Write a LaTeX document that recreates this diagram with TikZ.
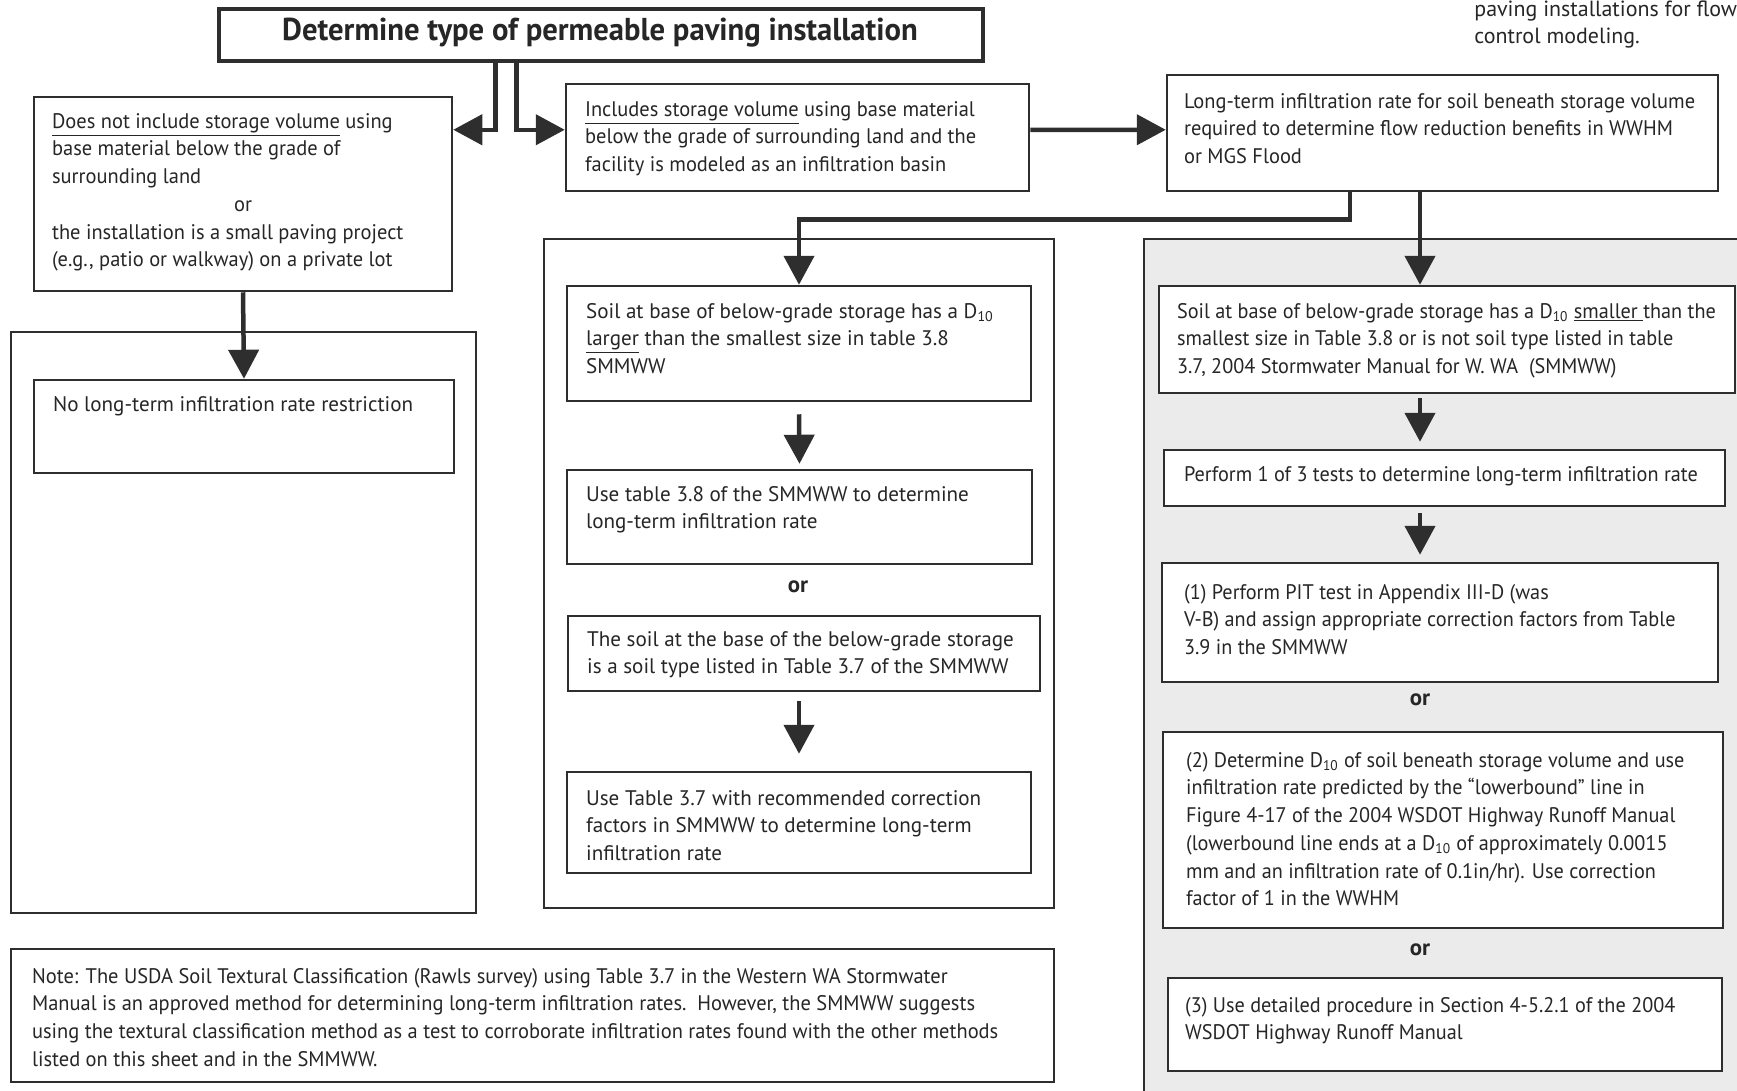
\documentclass[tikz,border=0pt]{standalone}
\usepackage{fontspec}
\usepackage{tikz}
\usetikzlibrary{arrows.meta,calc,fit}
\setmainfont{PT Sans}[FakeStretch=0.97]
\newfontfamily\widefam{PT Sans}
\newfontfamily\rightfam{PT Sans}[FakeStretch=0.96]
\newcommand\condfont{\fontsize{12}{15.8}\selectfont}
\newcommand\widefont{\widefam\fontsize{12}{15.8}\selectfont}
\newcommand\rightfont{\rightfam\fontsize{12}{15.8}\selectfont}
\newcommand\titlefont{\fontsize{18}{20}\selectfont\bfseries}
\definecolor{dgray}{HTML}{2E2E2E}
\definecolor{tgray}{HTML}{262626}
\definecolor{lgray}{HTML}{EBEBEB}
\tikzset{
  box/.style={draw=dgray, line width=0.05cm, fill=white, inner sep=0pt},
  col/.style={draw=dgray, line width=0.04cm, inner sep=0pt},
  txt/.style={anchor=north west, align=left, inner sep=0pt, text=tgray, font=\condfont},
  wtxt/.style={txt, font=\widefont},
  rtxt/.style={txt, font=\rightfont},
  ortxt/.style={inner sep=0pt, text=tgray, font=\widefam\fontsize{13}{14}\selectfont\bfseries},
  arr/.style={draw=dgray, line width=0.09cm, -{Triangle[length=0.58cm,width=0.6cm]}}
}

\begin{document}
\begin{tikzpicture}[x=0.02cm, y=-0.02cm]
\useasboundingbox (0,0) rectangle (1737,1090);
\clip (0,0) rectangle (1737,1090);
% columns
\node[col, fit={(11,332) (476,913)}] (leftcol) {};
\node[col, fit={(544,239) (1054,908)}] (midcol) {};
\node[col, fill=lgray, fit={(1144,239) (1760,1110)}] (rightcol) {};
% top row
\node[box, line width=0.07cm, fit={(219,9) (983,61)}] (title) {};
\node[inner sep=0pt, text=tgray, font=\titlefont] (titlet) at (600,33) {Determine type of permeable paving installation};
\node[inner sep=0pt, anchor=north west, align=left, text=tgray, font=\widefam\fontsize{12.5}{15}\selectfont] (cutnote) at (1474,1) {paving installations for flow\\control modeling.};
\node[box, fit={(34,97) (452,291)}] (notinc) {};
\node[txt] (notinct) at ($(notinc.north west)+(19,17)$) {\underline{Does not include storage volume} using\\base material below the grade of\\surrounding land\\\makebox[7.64cm]{or}\\the installation is a small paving project\\(e.g., patio or walkway) on a private lot};
\node[box, fit={(566,84) (1029,191)}] (inc) {};
\node[txt] (inct) at ($(inc.north west)+(20,18)$) {\underline{Includes storage volume} using base material\\below the grade of surrounding land and the\\facility is modeled as an infiltration basin};
\node[box, fit={(1167,75) (1718,191)}] (ltrate) {};
\node[txt] (ltratet) at ($(ltrate.north west)+(18,19)$) {Long-term infiltration rate for soil beneath storage volume\\required to determine flow reduction benefits in WWHM\\or MGS Flood};
% left column
\node[box, fit={(34,380) (454,473)}] (norestr) {};
\node[wtxt] (norestrt) at ($(norestr.north west)+(20,17)$) {No long-term infiltration rate restriction};
% middle column
\node[box, fit={(567,286) (1031,401)}] (larger) {};
\node[wtxt] (largert) at ($(larger.north west)+(20,18)$) {Soil at base of below-grade storage has a D\textsubscript{10}\\\underline{larger} than the smallest size in table 3.8\\SMMWW};
\node[box, fit={(567,470) (1032,564)}] (usetab38) {};
\node[wtxt] (usetab38t) at ($(usetab38.north west)+(20,17)$) {Use table 3.8 of the SMMWW to determine\\long-term infiltration rate};
\node[ortxt] (or1) at (798,587) {or};
\node[box, fit={(568,616) (1040,691)}] (soiltype) {};
\node[wtxt] (soiltypet) at ($(soiltype.north west)+(20,16)$) {The soil at the base of the below-grade storage\\is a soil type listed in Table 3.7 of the SMMWW};
\node[box, fit={(567,772) (1031,873)}] (usetab37) {};
\node[wtxt] (usetab37t) at ($(usetab37.north west)+(20,19)$) {Use Table 3.7 with recommended correction\\factors in SMMWW to determine long-term\\infiltration rate};
% right column
\coordinate (rx) at (1420,0);
\node[box, fit={(1159,286) (1735,393)}] (smaller) {};
\node[rtxt] (smallert) at ($(smaller.north west)+(19,18)$) {Soil at base of below-grade storage has a D\textsubscript{10} \underline{smaller }than the\\smallest size in Table 3.8 or is not soil type listed in table\\3.7, 2004 Stormwater Manual for W. WA~~(SMMWW)};
\node[box, fit={(1164,450) (1725,506)}] (perform) {};
\node[rtxt] (performt) at ($(perform.north west)+(21,17)$) {Perform 1 of 3 tests to determine long-term infiltration rate};
\node[box, fit={(1162,563) (1718,682)}] (pit) {};
\node[rtxt] (pitt) at ($(pit.north west)+(23,22)$) {(1) Perform PIT test in Appendix III-D (was\\V-B) and assign appropriate correction factors from Table\\3.9 in the SMMWW};
\node[ortxt] (or2) at (1420,700) {or};
\node[box, fit={(1163,732) (1723,928)}] (dten) {};
\node[rtxt] (dtent) at ($(dten.north west)+(24,21)$) {(2) Determine D\textsubscript{10} of soil beneath storage volume and use\\infiltration rate predicted by the “lowerbound” line in\\Figure 4-17 of the 2004 WSDOT Highway Runoff Manual\\(lowerbound line ends at a D\textsubscript{10} of approximately 0.0015\\mm and an infiltration rate of 0.1in/hr). Use correction\\factor of 1 in the WWHM};
\node[ortxt] (or3) at (1420,950) {or};
\node[box, fit={(1168,978) (1722,1071)}] (detailed) {};
\node[rtxt] (detailedt) at ($(detailed.north west)+(18,20)$) {(3) Use detailed procedure in Section 4-5.2.1 of the 2004\\WSDOT Highway Runoff Manual};
% note
\node[box, fit={(11,949) (1054,1082)}] (note) {};
\node[txt] (notet) at ($(note.north west)+(22,20)$) {Note: The USDA Soil Textural Classification (Rawls survey) using Table 3.7 in the Western WA Stormwater\\Manual is an approved method for determining long-term infiltration rates.~~However, the SMMWW suggests\\using the textural classification method as a test to corroborate infiltration rates found with the other methods\\listed on this sheet and in the SMMWW.};
% arrows
\coordinate (tl) at ($(title.south west)+(278,0)$);
\coordinate (tr) at ($(title.south west)+(299,0)$);
\draw[arr] (tl) |- ($(notinc.north east)+(0,34)$);
\draw[arr] (tr) |- ($(inc.north west)+(0,47)$);
\draw[arr] ($(inc.north east)+(0,47)$) -- ($(ltrate.north west)+(0,56)$);
\draw[arr] ($(ltrate.south west)+(184,0)$) -- ++(0,27) -| (larger.north);
\draw[arr] (ltrate.south -| rx) -- (smaller.north -| rx);
\draw[arr] (notinc.south) -- (norestr.north);
\draw[arr] ($(larger.south)+(0,12)$) -- ($(usetab38.north)+(0,-5)$);
\draw[arr] ($(soiltype.south -| larger.south)+(0,9)$) -- ($(usetab37.north -| larger.south)+(0,-17)$);
\draw[arr] ($(smaller.south -| rx)+(0,4)$) -- ($(perform.north -| rx)+(0,-7)$);
\draw[arr] ($(perform.south -| rx)+(0,6)$) -- ($(pit.north -| rx)+(0,-7)$);
\end{tikzpicture}
\end{document}
